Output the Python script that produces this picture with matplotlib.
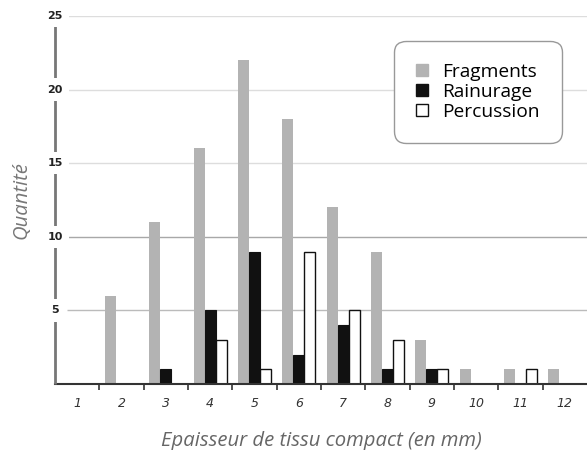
import numpy as np
import matplotlib.pyplot as plt
from matplotlib.patches import Patch

# thickness classes (mm) and counts per fracture type
thickness = np.arange(1, 13)
fragments = [0, 6, 11, 16, 22, 18, 12, 9, 3, 1, 1, 1]
rainurage = [0, 0, 1, 5, 9, 2, 4, 1, 1, 0, 0, 0]
percussion = [0, 0, 0, 3, 1, 9, 5, 3, 1, 0, 1, 0]
y_ticks = [5, 10, 15, 20, 25]
grid_colors = ["#bbbbbb", "#a8a8a8", "#dddddd", "#dddddd", "#dddddd"]

fig = plt.figure(figsize=(5.87, 4.5), dpi=100)
ax = fig.add_axes([0.0937, 0.1467, 0.9063, 0.8177])

w = 0.25
# gridlines start a little right of the y axis
for yv, gc in zip(y_ticks, grid_colors):
    ax.hlines(yv, 0.77, 12.5, color=gc, lw=1, zorder=0)

ax.bar(thickness - w, fragments, w, color="#b3b3b3", zorder=2)
ax.bar(thickness, rainurage, w, color="#111111", edgecolor="#111111", lw=0.8, zorder=2)
pm = np.array(percussion) > 0
ax.bar(thickness[pm] + w, np.array(percussion)[pm], w, color="white",
       edgecolor="#111111", lw=1, zorder=2)

ax.set_xlim(0.5, 12.5)
ax.set_ylim(0, 25)

for s in ["top", "right", "left"]:
    ax.spines[s].set_visible(False)
ax.spines["bottom"].set_color("#333333")
ax.spines["bottom"].set_linewidth(1.5)

# y axis line broken by the labels
ax.vlines(0.5, 0, 25, color="#777777", lw=2, zorder=3, clip_on=False)
ax.set_yticks([])
for yv in y_ticks:
    ax.text(0.5, yv, str(yv), ha="center", va="center", fontsize=8,
            fontweight="bold", color="#222222", zorder=5, clip_on=False,
            bbox=dict(facecolor="white", edgecolor="none", pad=4.5))

# x ticks: marks at class boundaries, labels at centres
ax.set_xticks(np.arange(1.5, 12.5, 1))
ax.set_xticklabels([])
ax.tick_params(axis="x", direction="out", length=4, width=1.2, color="#333333")
for t in thickness:
    ax.text(t, -1.3, str(t), ha="center", va="center", fontsize=9,
            style="italic", color="#333333")

ax.set_xlabel("Epaisseur de tissu compact (en mm)", fontsize=14.6, style="italic",
              color="#666666", family="Open Sans", labelpad=26)
ax.set_ylabel("Quantité", fontsize=14.6, style="italic", color="#777777",
              family="Open Sans", labelpad=17)

handles = [Patch(facecolor="#b3b3b3", edgecolor="#b3b3b3"),
           Patch(facecolor="#111111", edgecolor="#111111"),
           Patch(facecolor="white", edgecolor="#111111")]
leg = ax.legend(handles, ["Fragments", "Rainurage", "Percussion"],
                loc="upper right", bbox_to_anchor=(0.963, 0.948),
                handlelength=0.6, handleheight=0.6,
                handletextpad=0.75, labelspacing=0.1, borderpad=0.95,
                fancybox=True, framealpha=1, edgecolor="#999999",
                prop={"family": "Open Sans", "size": 13.8})
leg.get_frame().set_boxstyle("round,pad=0.2,rounding_size=0.6")

plt.savefig("out.png", dpi=100)
